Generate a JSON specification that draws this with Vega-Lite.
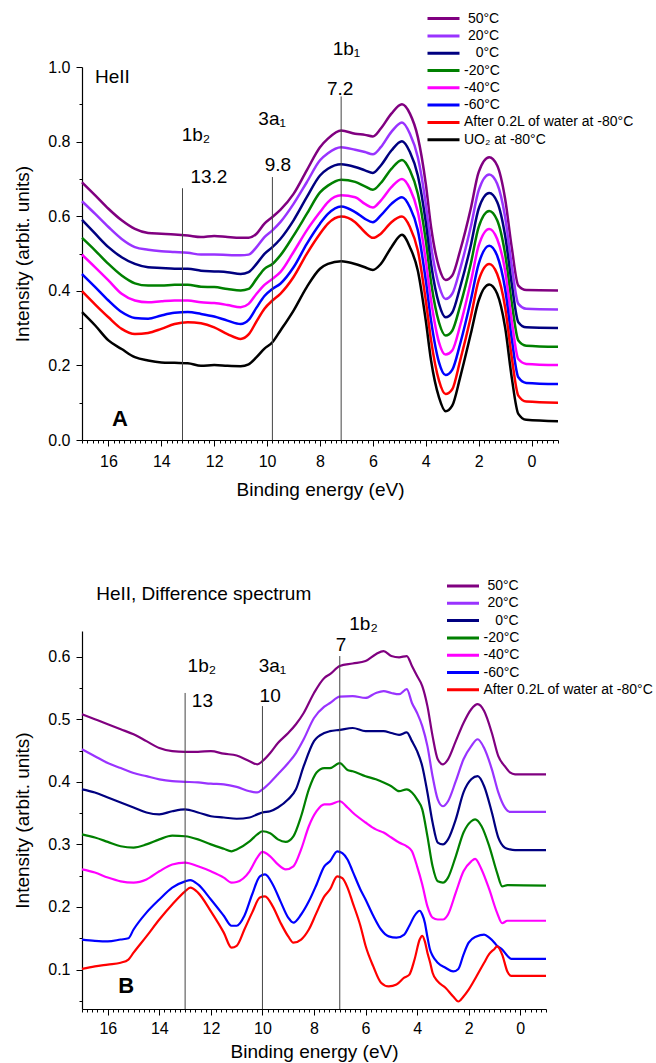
{
  "$schema": "https://vega.github.io/schema/vega-lite/v6.json",
  "padding": {"top": 11, "left": 13, "right": 0, "bottom": 0},
  "spacing": 80,
  "config": {
    "font": "Liberation Sans",
    "view": {"stroke": null},
    "axis": {"domainColor": "#000", "domainWidth": 1.2, "tickColor": "#000", "tickWidth": 1, "labelColor": "#000", "labelFontSize": 16, "titleFontSize": 19, "titleFontWeight": "normal", "titleColor": "#000", "grid": false, "labelFlush": false, "labelOverlap": false, "labelBound": false},
    "legend": {"labelFontSize": 14, "labelColor": "#000", "labelLimit": 400, "symbolType": "stroke", "symbolSize": 1024, "symbolStrokeWidth": 3, "clipHeight": 14, "rowPadding": 3.3, "labelOffset": 3, "padding": 0, "orient": "none"},
    "text": {"font": "Liberation Sans", "color": "#000"}
  },
  "resolve": {"scale": {"color": "independent"}, "legend": {"color": "independent"}},
  "datasets": {
    "a": [
      {"E":17,"p":0.691,"v":0.640,"n":0.590,"g":0.542,"m":0.497,"b":0.445,"r":0.399,"k":0.343},
      {"E":16.5,"p":0.656,"v":0.606,"n":0.553,"g":0.508,"m":0.463,"b":0.410,"r":0.363,"k":0.307},
      {"E":16,"p":0.620,"v":0.571,"n":0.517,"g":0.472,"m":0.428,"b":0.374,"r":0.329,"k":0.267},
      {"E":15.5,"p":0.589,"v":0.539,"n":0.490,"g":0.441,"m":0.392,"b":0.343,"r":0.298,"k":0.244},
      {"E":15,"p":0.566,"v":0.517,"n":0.472,"g":0.420,"m":0.374,"b":0.327,"r":0.284,"k":0.222},
      {"E":14.5,"p":0.555,"v":0.510,"n":0.463,"g":0.414,"m":0.369,"b":0.325,"r":0.287,"k":0.213},
      {"E":14,"p":0.553,"v":0.506,"n":0.461,"g":0.414,"m":0.372,"b":0.334,"r":0.298,"k":0.208},
      {"E":13.5,"p":0.551,"v":0.504,"n":0.459,"g":0.416,"m":0.374,"b":0.341,"r":0.311,"k":0.207},
      {"E":13,"p":0.548,"v":0.502,"n":0.459,"g":0.416,"m":0.374,"b":0.343,"r":0.316,"k":0.206},
      {"E":12.5,"p":0.544,"v":0.497,"n":0.454,"g":0.411,"m":0.369,"b":0.338,"r":0.313,"k":0.199},
      {"E":12,"p":0.547,"v":0.497,"n":0.452,"g":0.410,"m":0.367,"b":0.331,"r":0.302,"k":0.201},
      {"E":11.5,"p":0.544,"v":0.496,"n":0.450,"g":0.405,"m":0.362,"b":0.320,"r":0.284,"k":0.199},
      {"E":11,"p":0.542,"v":0.495,"n":0.445,"g":0.401,"m":0.356,"b":0.311,"r":0.271,"k":0.198},
      {"E":10.7,"p":0.542,"v":0.497,"n":0.450,"g":0.405,"m":0.365,"b":0.322,"r":0.283,"k":0.203},
      {"E":10.4,"p":0.553,"v":0.517,"n":0.472,"g":0.432,"m":0.392,"b":0.355,"r":0.318,"k":0.222},
      {"E":10.1,"p":0.580,"v":0.544,"n":0.499,"g":0.459,"m":0.416,"b":0.386,"r":0.352,"k":0.245},
      {"E":9.8,"p":0.598,"v":0.562,"n":0.517,"g":0.472,"m":0.432,"b":0.405,"r":0.374,"k":0.262},
      {"E":9.5,"p":0.617,"v":0.584,"n":0.539,"g":0.495,"m":0.450,"b":0.419,"r":0.392,"k":0.293},
      {"E":9,"p":0.660,"v":0.633,"n":0.589,"g":0.548,"m":0.504,"b":0.463,"r":0.437,"k":0.347},
      {"E":8.5,"p":0.723,"v":0.691,"n":0.651,"g":0.606,"m":0.562,"b":0.526,"r":0.499,"k":0.410},
      {"E":8,"p":0.785,"v":0.750,"n":0.709,"g":0.664,"m":0.611,"b":0.580,"r":0.553,"k":0.459},
      {"E":7.7,"p":0.808,"v":0.769,"n":0.727,"g":0.682,"m":0.638,"b":0.606,"r":0.580,"k":0.472},
      {"E":7.2,"p":0.830,"v":0.785,"n":0.739,"g":0.698,"m":0.656,"b":0.626,"r":0.599,"k":0.479},
      {"E":6.67,"p":0.821,"v":0.778,"n":0.732,"g":0.692,"m":0.651,"b":0.611,"r":0.584,"k":0.472},
      {"E":6.3,"p":0.818,"v":0.772,"n":0.723,"g":0.680,"m":0.633,"b":0.593,"r":0.557,"k":0.463},
      {"E":6,"p":0.814,"v":0.766,"n":0.716,"g":0.671,"m":0.623,"b":0.584,"r":0.542,"k":0.456},
      {"E":5.7,"p":0.835,"v":0.785,"n":0.736,"g":0.689,"m":0.642,"b":0.602,"r":0.553,"k":0.472},
      {"E":5.3,"p":0.875,"v":0.826,"n":0.776,"g":0.727,"m":0.678,"b":0.633,"r":0.584,"k":0.517},
      {"E":4.9,"p":0.900,"v":0.851,"n":0.801,"g":0.751,"m":0.700,"b":0.651,"r":0.599,"k":0.550},
      {"E":4.6,"p":0.875,"v":0.821,"n":0.772,"g":0.723,"m":0.674,"b":0.624,"r":0.571,"k":0.517},
      {"E":4.3,"p":0.812,"v":0.758,"n":0.709,"g":0.660,"m":0.611,"b":0.562,"r":0.508,"k":0.454},
      {"E":4,"p":0.687,"v":0.633,"n":0.584,"g":0.535,"m":0.481,"b":0.428,"r":0.374,"k":0.320},
      {"E":3.8,"p":0.571,"v":0.521,"n":0.472,"g":0.423,"m":0.374,"b":0.320,"r":0.267,"k":0.213},
      {"E":3.5,"p":0.463,"v":0.414,"n":0.365,"g":0.315,"m":0.262,"b":0.208,"r":0.159,"k":0.114},
      {"E":3.25,"p":0.429,"v":0.378,"n":0.329,"g":0.280,"m":0.229,"b":0.174,"r":0.123,"k":0.077},
      {"E":3,"p":0.441,"v":0.392,"n":0.342,"g":0.293,"m":0.240,"b":0.188,"r":0.136,"k":0.092},
      {"E":2.7,"p":0.508,"v":0.459,"n":0.410,"g":0.360,"m":0.307,"b":0.258,"r":0.213,"k":0.168},
      {"E":2.3,"p":0.620,"v":0.571,"n":0.521,"g":0.472,"m":0.423,"b":0.374,"r":0.329,"k":0.284},
      {"E":2,"p":0.718,"v":0.669,"n":0.620,"g":0.571,"m":0.521,"b":0.472,"r":0.428,"k":0.374},
      {"E":1.6,"p":0.758,"v":0.712,"n":0.662,"g":0.614,"m":0.566,"b":0.521,"r":0.472,"k":0.417},
      {"E":1.3,"p":0.736,"v":0.687,"n":0.638,"g":0.589,"m":0.539,"b":0.494,"r":0.445,"k":0.392},
      {"E":1,"p":0.647,"v":0.598,"n":0.548,"g":0.499,"m":0.454,"b":0.405,"r":0.356,"k":0.302},
      {"E":0.75,"p":0.517,"v":0.468,"n":0.419,"g":0.369,"m":0.320,"b":0.271,"r":0.222,"k":0.168},
      {"E":0.5,"p":0.414,"v":0.365,"n":0.316,"g":0.267,"m":0.217,"b":0.168,"r":0.119,"k":0.070},
      {"E":0.2,"p":0.402,"v":0.352,"n":0.302,"g":0.253,"m":0.204,"b":0.153,"r":0.103,"k":0.054},
      {"E":-1,"p":0.401,"v":0.350,"n":0.300,"g":0.250,"m":0.201,"b":0.150,"r":0.100,"k":0.050}
    ],
    "b": [
      {"E":17,"p":0.508,"v":0.452,"n":0.388},
      {"E":16.5,"p":0.500,"v":0.441,"n":0.383},
      {"E":16,"p":0.492,"v":0.430,"n":0.375},
      {"E":15.5,"p":0.484,"v":0.422,"n":0.367},
      {"E":15,"p":0.476,"v":0.414,"n":0.359},
      {"E":14.5,"p":0.465,"v":0.409,"n":0.351},
      {"E":14,"p":0.454,"v":0.404,"n":0.348},
      {"E":13.5,"p":0.449,"v":0.401,"n":0.353},
      {"E":13,"p":0.448,"v":0.400,"n":0.356},
      {"E":12.5,"p":0.448,"v":0.399,"n":0.351},
      {"E":12,"p":0.449,"v":0.397,"n":0.345},
      {"E":11.5,"p":0.445,"v":0.396,"n":0.343},
      {"E":11,"p":0.442,"v":0.392,"n":0.341},
      {"E":10.5,"p":0.433,"v":0.385,"n":0.343},
      {"E":10.2,"p":0.428,"v":0.383,"n":0.348},
      {"E":10,"p":0.433,"v":0.388,"n":0.351},
      {"E":9.7,"p":0.446,"v":0.399,"n":0.353},
      {"E":9.4,"p":0.462,"v":0.412,"n":0.359},
      {"E":9,"p":0.478,"v":0.430,"n":0.372},
      {"E":8.7,"p":0.492,"v":0.446,"n":0.388},
      {"E":8.4,"p":0.510,"v":0.468,"n":0.425},
      {"E":8,"p":0.542,"v":0.502,"n":0.465},
      {"E":7.6,"p":0.566,"v":0.520,"n":0.478},
      {"E":7.38,"p":0.572,"v":0.526,"n":0.481},
      {"E":7,"p":0.585,"v":0.536,"n":0.483},
      {"E":6.5,"p":0.589,"v":0.537,"n":0.486},
      {"E":6,"p":0.593,"v":0.534,"n":0.481},
      {"E":5.6,"p":0.604,"v":0.542,"n":0.481},
      {"E":5.3,"p":0.609,"v":0.545,"n":0.481},
      {"E":5,"p":0.601,"v":0.542,"n":0.478},
      {"E":4.7,"p":0.599,"v":0.540,"n":0.475},
      {"E":4.4,"p":0.601,"v":0.548,"n":0.479},
      {"E":4.2,"p":0.585,"v":0.526,"n":0.465},
      {"E":4,"p":0.569,"v":0.510,"n":0.449},
      {"E":3.8,"p":0.553,"v":0.489,"n":0.425},
      {"E":3.6,"p":0.521,"v":0.457,"n":0.383},
      {"E":3.4,"p":0.473,"v":0.409,"n":0.335},
      {"E":3.2,"p":0.436,"v":0.372,"n":0.303},
      {"E":3,"p":0.428,"v":0.361,"n":0.300},
      {"E":2.8,"p":0.436,"v":0.369,"n":0.308},
      {"E":2.5,"p":0.465,"v":0.401,"n":0.340},
      {"E":2.2,"p":0.494,"v":0.436,"n":0.383},
      {"E":1.9,"p":0.516,"v":0.457,"n":0.404},
      {"E":1.65,"p":0.524,"v":0.468,"n":0.409},
      {"E":1.4,"p":0.513,"v":0.454,"n":0.393},
      {"E":1.1,"p":0.478,"v":0.420,"n":0.351},
      {"E":0.85,"p":0.441,"v":0.383,"n":0.311},
      {"E":0.6,"p":0.425,"v":0.359,"n":0.295},
      {"E":0.4,"p":0.415,"v":0.352,"n":0.292},
      {"E":0.2,"p":0.412,"v":0.352,"n":0.291},
      {"E":-1,"p":0.412,"v":0.352,"n":0.291},
      {"E":17,"g":0.316,"m":0.260},
      {"E":16.5,"g":0.311,"m":0.255},
      {"E":16,"g":0.304,"m":0.247},
      {"E":15.5,"g":0.297,"m":0.241},
      {"E":15,"g":0.295,"m":0.239},
      {"E":14.5,"g":0.300,"m":0.244},
      {"E":14,"g":0.308,"m":0.257},
      {"E":13.5,"g":0.314,"m":0.268},
      {"E":13,"g":0.313,"m":0.271},
      {"E":12.5,"g":0.308,"m":0.265},
      {"E":12,"g":0.300,"m":0.257},
      {"E":11.5,"g":0.293,"m":0.247},
      {"E":11.2,"g":0.289,"m":0.239},
      {"E":11,"g":0.292,"m":0.240},
      {"E":10.5,"g":0.305,"m":0.257},
      {"E":10.2,"g":0.316,"m":0.279},
      {"E":10,"g":0.321,"m":0.288},
      {"E":9.7,"g":0.318,"m":0.281},
      {"E":9.4,"g":0.308,"m":0.268},
      {"E":9.1,"g":0.304,"m":0.260},
      {"E":8.8,"g":0.313,"m":0.265},
      {"E":8.5,"g":0.345,"m":0.292},
      {"E":8.2,"g":0.388,"m":0.329},
      {"E":7.9,"g":0.415,"m":0.353},
      {"E":7.6,"g":0.422,"m":0.364},
      {"E":7.38,"g":0.422,"m":0.364},
      {"E":7,"g":0.430,"m":0.369},
      {"E":6.7,"g":0.419,"m":0.359},
      {"E":6.5,"g":0.417,"m":0.351},
      {"E":6,"g":0.409,"m":0.335},
      {"E":5.6,"g":0.404,"m":0.324},
      {"E":5.3,"g":0.399,"m":0.319},
      {"E":5,"g":0.393,"m":0.311},
      {"E":4.7,"g":0.385,"m":0.303},
      {"E":4.4,"g":0.388,"m":0.297},
      {"E":4.2,"g":0.383,"m":0.289},
      {"E":4,"g":0.372,"m":0.265},
      {"E":3.8,"g":0.356,"m":0.236},
      {"E":3.6,"g":0.313,"m":0.201},
      {"E":3.4,"g":0.265,"m":0.183},
      {"E":3.2,"g":0.241,"m":0.180},
      {"E":3,"g":0.239,"m":0.180},
      {"E":2.8,"g":0.247,"m":0.188},
      {"E":2.5,"g":0.281,"m":0.223},
      {"E":2.2,"g":0.319,"m":0.257},
      {"E":1.9,"g":0.337,"m":0.273},
      {"E":1.75,"g":0.340,"m":0.277},
      {"E":1.5,"g":0.329,"m":0.260},
      {"E":1.2,"g":0.297,"m":0.228},
      {"E":0.9,"g":0.255,"m":0.191},
      {"E":0.7,"g":0.233,"m":0.174},
      {"E":0.5,"g":0.235,"m":0.178},
      {"E":-1,"g":0.234,"m":0.178},
      {"E":17,"b":0.148,"r":0.101},
      {"E":16.5,"b":0.146,"r":0.105},
      {"E":16,"b":0.145,"r":0.108},
      {"E":15.5,"b":0.148,"r":0.111},
      {"E":15.2,"b":0.150,"r":0.116},
      {"E":15,"b":0.164,"r":0.127},
      {"E":14.5,"b":0.191,"r":0.153},
      {"E":14,"b":0.212,"r":0.180},
      {"E":13.5,"b":0.231,"r":0.204},
      {"E":13,"b":0.241,"r":0.225},
      {"E":12.8,"b":0.243,"r":0.231},
      {"E":12.5,"b":0.236,"r":0.223},
      {"E":12,"b":0.212,"r":0.193},
      {"E":11.5,"b":0.186,"r":0.159},
      {"E":11.2,"b":0.170,"r":0.135},
      {"E":11,"b":0.170,"r":0.138},
      {"E":10.7,"b":0.186,"r":0.164},
      {"E":10.4,"b":0.220,"r":0.191},
      {"E":10.1,"b":0.249,"r":0.215},
      {"E":9.9,"b":0.252,"r":0.217},
      {"E":9.6,"b":0.236,"r":0.201},
      {"E":9.3,"b":0.209,"r":0.175},
      {"E":9,"b":0.183,"r":0.153},
      {"E":8.8,"b":0.175,"r":0.143},
      {"E":8.5,"b":0.188,"r":0.148},
      {"E":8.2,"b":0.209,"r":0.164},
      {"E":7.9,"b":0.236,"r":0.191},
      {"E":7.6,"b":0.265,"r":0.217},
      {"E":7.38,"b":0.273,"r":0.228},
      {"E":7.1,"b":0.289,"r":0.249},
      {"E":6.9,"b":0.286,"r":0.246},
      {"E":6.7,"b":0.276,"r":0.231},
      {"E":6.5,"b":0.257,"r":0.207},
      {"E":6.2,"b":0.228,"r":0.170},
      {"E":6,"b":0.212,"r":0.138},
      {"E":5.7,"b":0.186,"r":0.105},
      {"E":5.4,"b":0.164,"r":0.079},
      {"E":5.1,"b":0.153,"r":0.073},
      {"E":4.8,"b":0.151,"r":0.076},
      {"E":4.5,"b":0.156,"r":0.087},
      {"E":4.3,"b":0.170,"r":0.092},
      {"E":4.1,"b":0.186,"r":0.116},
      {"E":3.9,"b":0.194,"r":0.148},
      {"E":3.8,"b":0.188,"r":0.154},
      {"E":3.7,"b":0.175,"r":0.145},
      {"E":3.6,"b":0.152,"r":0.127},
      {"E":3.5,"b":0.132,"r":0.112},
      {"E":3.4,"b":0.122,"r":0.095},
      {"E":3.2,"b":0.111,"r":0.081},
      {"E":2.9,"b":0.103,"r":0.071},
      {"E":2.6,"b":0.097,"r":0.057},
      {"E":2.4,"b":0.101,"r":0.049},
      {"E":2.2,"b":0.124,"r":0.057},
      {"E":2,"b":0.143,"r":0.068},
      {"E":1.7,"b":0.153,"r":0.089},
      {"E":1.4,"b":0.156,"r":0.111},
      {"E":1.2,"b":0.151,"r":0.125},
      {"E":1,"b":0.143,"r":0.133},
      {"E":0.9,"b":0.138,"r":0.137},
      {"E":0.7,"b":0.132,"r":0.124},
      {"E":0.5,"b":0.122,"r":0.097},
      {"E":0.35,"b":0.117,"r":0.090},
      {"E":-1,"b":0.117,"r":0.090}
    ],
    "ruleA": [
      {"E":13.2,"I":0,"I2":0.675},
      {"E":9.8,"I":0,"I2":0.705},
      {"E":7.2,"I":0,"I2":0.921}
    ],
    "textA": [
      {"E":12.69,"I":0.817,"t":"1b₂"},
      {"E":12.2,"I":0.705,"t":"13.2"},
      {"E":9.81,"I":0.861,"t":"3a₁"},
      {"E":9.59,"I":0.736,"t":"9.8"},
      {"E":7.0,"I":1.049,"t":"1b₁"},
      {"E":7.24,"I":0.942,"t":"7.2"}
    ],
    "leftA": [{"E":16.51,"I":0.972,"t":"HeII"}],
    "boldA": [{"E":15.57,"I":0.056,"t":"A"}],
    "ruleB": [
      {"E":13,"I":0.037,"I2":0.542},
      {"E":10,"I":0.037,"I2":0.521},
      {"E":7,"I":0.037,"I2":0.601}
    ],
    "textB": [
      {"E":12.35,"I":0.585,"t":"1b₂"},
      {"E":12.33,"I":0.529,"t":"13"},
      {"E":9.61,"I":0.585,"t":"3a₁"},
      {"E":9.7,"I":0.537,"t":"10"},
      {"E":6.08,"I":0.652,"t":"1b₂"},
      {"E":6.95,"I":0.618,"t":"7"}
    ],
    "leftB": [{"E":16.45,"I":0.6996,"t":"HeII, Difference spectrum"}],
    "boldB": [{"E":15.29,"I":0.073,"t":"B"}]
  },
  "vconcat": [
    {
      "width": 476,
      "height": 373,
      "encoding": {
        "x": {"field": "E", "type": "quantitative", "scale": {"domain": [17, -1], "nice": false, "zero": false},
          "axis": {"title": "Binding energy (eV)", "titlePadding": 11, "labelPadding": 7,
            "values": [17,16.8,16.6,16.4,16.2,16,15.8,15.6,15.4,15.2,15,14.8,14.6,14.4,14.2,14,13.8,13.6,13.4,13.2,13,12.8,12.6,12.4,12.2,12,11.8,11.6,11.4,11.2,11,10.8,10.6,10.4,10.2,10,9.8,9.6,9.4,9.2,9,8.8,8.6,8.4,8.2,8,7.8,7.6,7.4,7.2,7,6.8,6.6,6.4,6.2,6,5.8,5.6,5.4,5.2,5,4.8,4.6,4.4,4.2,4,3.8,3.6,3.4,3.2,3,2.8,2.6,2.4,2.2,2,1.8,1.6,1.4,1.2,1,0.8,0.6,0.4,0.2,0,-0.2,-0.4,-0.6,-0.8,-1],
            "labelExpr": "abs(round(datum.value*10)) % 20 == 0 ? format(datum.value, '.0f') : ''",
            "tickSize": {"condition": {"test": "abs(round(datum.value*10)) % 20 == 0", "value": 6}, "value": 3}}},
        "y": {"field": "I", "type": "quantitative", "scale": {"domain": [0, 1], "nice": false, "zero": false},
          "axis": {"title": "Intensity (arbit. units)", "titlePadding": 15, "labelPadding": 6,
            "values": [0,0.1,0.2,0.3,0.4,0.5,0.6,0.7,0.8,0.9,1],
            "labelExpr": "round(datum.value*10) % 2 == 0 ? format(datum.value, '.1f') : ''",
            "tickSize": {"condition": {"test": "round(datum.value*10) % 2 == 0", "value": 6}, "value": 3}}}
      },
      "layer": [
        {
          "data": {"name": "a"},
          "transform": [{"fold": ["p","v","n","g","m","b","r","k"], "as": ["s","I"]}, {"filter": "isValid(datum.I)"}],
          "mark": {"type": "line", "strokeWidth": 2.5, "interpolate": "monotone"},
          "encoding": {
            "color": {"field": "s", "type": "nominal",
              "scale": {"domain": ["p","v","n","g","m","b","r","k"], "range": ["#800080","#9933ff","#000080","#008000","#ff00ff","#0000ff","#ff0000","#000000"]},
              "legend": {"title": null, "orient": "none", "legendX": 344, "legendY": -55.4,
                "labelExpr": "datum.value == 'p' ? '\u200b\u00a050°C' : datum.value == 'v' ? '\u200b\u00a020°C' : datum.value == 'n' ? '\u200b\u00a0\u00a0\u00a00°C' : datum.value == 'g' ? '-20°C' : datum.value == 'm' ? '-40°C' : datum.value == 'b' ? '-60°C' : datum.value == 'r' ? 'After 0.2L of water at -80°C' : 'UO₂ at -80°C'"}}
          }
        },
        {
          "data": {"name": "ruleA"},
          "mark": {"type": "rule", "color": "#444", "strokeWidth": 1},
          "encoding": {"y2": {"field": "I2"}}
        },
        {
          "data": {"name": "textA"},
          "mark": {"type": "text", "fontSize": 19, "align": "center", "baseline": "middle"},
          "encoding": {"text": {"field": "t"}}
        },
        {
          "data": {"name": "leftA"},
          "mark": {"type": "text", "fontSize": 19, "align": "left", "baseline": "middle"},
          "encoding": {"text": {"field": "t"}}
        },
        {
          "data": {"name": "boldA"},
          "mark": {"type": "text", "fontSize": 22, "fontWeight": "bold", "align": "center", "baseline": "middle"},
          "encoding": {"text": {"field": "t"}}
        }
      ]
    },
    {
      "width": 464,
      "height": 378,
      "encoding": {
        "x": {"field": "E", "type": "quantitative", "scale": {"domain": [17, -1], "nice": false, "zero": false},
          "axis": {"title": "Binding energy (eV)", "titlePadding": 6.5, "labelPadding": 5.4,
            "values": [17,16.8,16.6,16.4,16.2,16,15.8,15.6,15.4,15.2,15,14.8,14.6,14.4,14.2,14,13.8,13.6,13.4,13.2,13,12.8,12.6,12.4,12.2,12,11.8,11.6,11.4,11.2,11,10.8,10.6,10.4,10.2,10,9.8,9.6,9.4,9.2,9,8.8,8.6,8.4,8.2,8,7.8,7.6,7.4,7.2,7,6.8,6.6,6.4,6.2,6,5.8,5.6,5.4,5.2,5,4.8,4.6,4.4,4.2,4,3.8,3.6,3.4,3.2,3,2.8,2.6,2.4,2.2,2,1.8,1.6,1.4,1.2,1,0.8,0.6,0.4,0.2,0,-0.2,-0.4,-0.6,-0.8,-1],
            "labelExpr": "abs(round(datum.value*10)) % 20 == 0 ? format(datum.value, '.0f') : ''",
            "tickSize": {"condition": {"test": "abs(round(datum.value*10)) % 20 == 0", "value": 6}, "value": 3}}},
        "y": {"field": "I", "type": "quantitative", "scale": {"domain": [0.037, 0.641], "nice": false, "zero": false},
          "axis": {"title": "Intensity (arbit. units)", "titlePadding": 15, "labelPadding": 6,
            "values": [0.05,0.1,0.15,0.2,0.25,0.3,0.35,0.4,0.45,0.5,0.55,0.6],
            "labelExpr": "round(datum.value*100) % 10 == 0 ? format(datum.value, '.1f') : ''",
            "tickSize": {"condition": {"test": "round(datum.value*100) % 10 == 0", "value": 6}, "value": 3}}}
      },
      "layer": [
        {
          "data": {"name": "b"},
          "transform": [{"fold": ["p","v","n","g","m","b","r"], "as": ["s","I"]}, {"filter": "isValid(datum.I)"}],
          "mark": {"type": "line", "strokeWidth": 2.2, "interpolate": "monotone"},
          "encoding": {
            "color": {"field": "s", "type": "nominal",
              "scale": {"domain": ["p","v","n","g","m","b","r"], "range": ["#800080","#9933ff","#000080","#008000","#ff00ff","#0000ff","#ff0000"]},
              "legend": {"title": null, "orient": "none", "legendX": 363.5, "legendY": -52,
                "labelExpr": "datum.value == 'p' ? '\u200b\u00a050°C' : datum.value == 'v' ? '\u200b\u00a020°C' : datum.value == 'n' ? '\u200b\u00a0\u00a0\u00a00°C' : datum.value == 'g' ? '-20°C' : datum.value == 'm' ? '-40°C' : datum.value == 'b' ? '-60°C' : 'After 0.2L of water at -80°C'"}}
          }
        },
        {
          "data": {"name": "ruleB"},
          "mark": {"type": "rule", "color": "#444", "strokeWidth": 1},
          "encoding": {"y2": {"field": "I2"}}
        },
        {
          "data": {"name": "textB"},
          "mark": {"type": "text", "fontSize": 19, "align": "center", "baseline": "middle"},
          "encoding": {"text": {"field": "t"}}
        },
        {
          "data": {"name": "leftB"},
          "mark": {"type": "text", "fontSize": 19, "align": "left", "baseline": "middle"},
          "encoding": {"text": {"field": "t"}}
        },
        {
          "data": {"name": "boldB"},
          "mark": {"type": "text", "fontSize": 22, "fontWeight": "bold", "align": "center", "baseline": "middle"},
          "encoding": {"text": {"field": "t"}}
        }
      ]
    }
  ]
}
